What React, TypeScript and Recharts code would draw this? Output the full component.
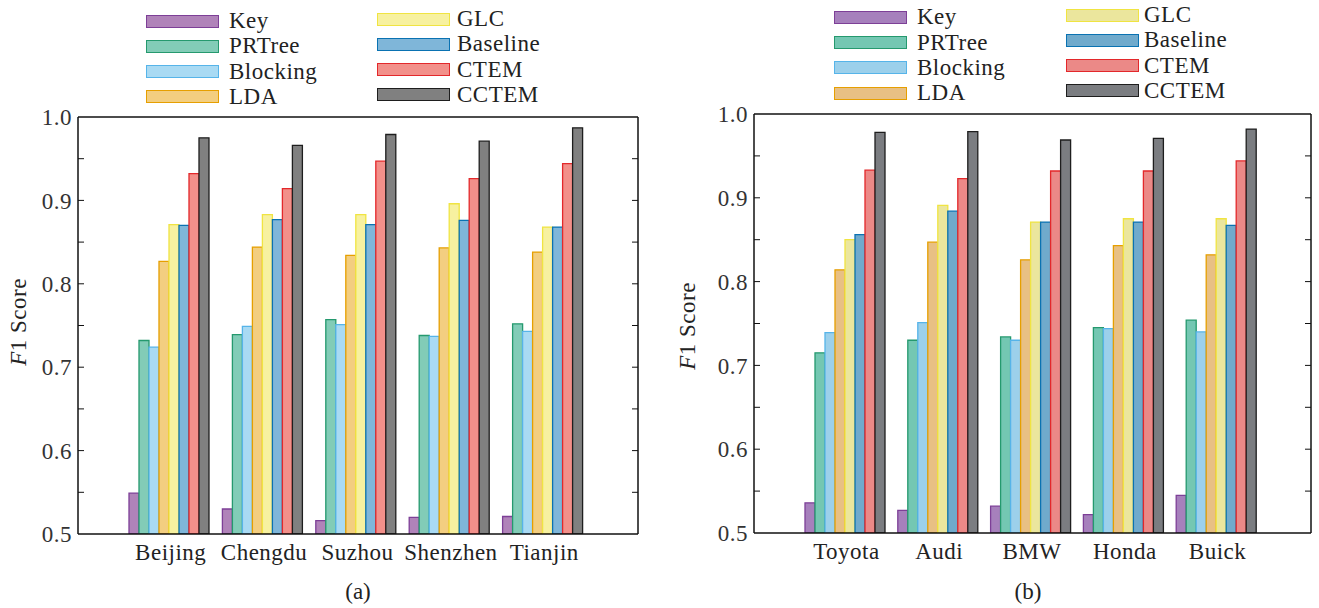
import React from 'react';
import { BarChart, Bar, XAxis, YAxis, ReferenceLine } from 'recharts';

const seriesNames = ['Key', 'PRTree', 'Blocking', 'LDA', 'GLC', 'Baseline', 'CTEM', 'CCTEM'];

const citiesA = ['Beijing', 'Chengdu', 'Suzhou', 'Shenzhen', 'Tianjin'];
const keyA = [0.549, 0.530, 0.516, 0.520, 0.521];
const prtreeA = [0.732, 0.739, 0.757, 0.738, 0.752];
const blockingA = [0.724, 0.749, 0.751, 0.737, 0.743];
const ldaA = [0.827, 0.844, 0.834, 0.843, 0.838];
const glcA = [0.871, 0.883, 0.883, 0.896, 0.868];
const baselineA = [0.870, 0.877, 0.871, 0.876, 0.868];
const ctemA = [0.932, 0.914, 0.947, 0.926, 0.944];
const cctemA = [0.975, 0.966, 0.979, 0.971, 0.987];

const brandsB = ['Toyota', 'Audi', 'BMW', 'Honda', 'Buick'];
const keyB = [0.536, 0.527, 0.532, 0.522, 0.545];
const prtreeB = [0.715, 0.730, 0.734, 0.745, 0.754];
const blockingB = [0.739, 0.751, 0.730, 0.744, 0.740];
const ldaB = [0.814, 0.847, 0.826, 0.843, 0.832];
const glcB = [0.850, 0.891, 0.871, 0.875, 0.875];
const baselineB = [0.856, 0.884, 0.871, 0.871, 0.867];
const ctemB = [0.933, 0.923, 0.932, 0.932, 0.944];
const cctemB = [0.978, 0.979, 0.969, 0.971, 0.982];

const yTicks = [0.5, 0.6, 0.7, 0.8, 0.9, 1.0];
const yMinorTicks = [0.55, 0.6, 0.65, 0.7, 0.75, 0.8, 0.85, 0.9, 0.95];

const fillsA = ['#B083B9', '#82CCB7', '#A9DAF3', '#F3CE80', '#F7F1A0', '#7FB6D9', '#F2908A', '#808080'];
const fillsB = ['#A680BC', '#74C7B2', '#9CD0EB', '#E8C084', '#EBE69D', '#70AACC', '#EB8987', '#7B7D81'];
const strokes = ['#7D3F97', '#25996E', '#56B4E9', '#E69F00', '#F0E442', '#0A72B2', '#E3282B', '#1E1E1E'];

const FONT = '"Liberation Serif", "DejaVu Serif", serif';
const FS = 23;
const LS = 0.5;

function buildRows(cats: string[], series: number[][]) {
  return cats.map((c, i) => {
    const row: Record<string, string | number> = { name: c };
    seriesNames.forEach((s, j) => {
      row[s] = series[j][i];
    });
    return row;
  });
}

const dataA = buildRows(citiesA, [keyA, prtreeA, blockingA, ldaA, glcA, baselineA, ctemA, cctemA]);
const dataB = buildRows(brandsB, [keyB, prtreeB, blockingB, ldaB, glcB, baselineB, ctemB, cctemB]);

const EmptyTick = () => <g />;

type PanelProps = {
  left: number;
  width: number;
  data: Record<string, string | number>[];
  fills: string[];
  yAxisWidth: number;
  marginTop: number;
  marginRight: number;
  marginBottom: number;
};

function Panel({ left, width, data, fills, yAxisWidth, marginTop, marginRight, marginBottom }: PanelProps) {
  return (
    <div style={{ position: 'absolute', left, top: 0 }}>
      <BarChart
        width={width}
        height={608}
        data={data}
        margin={{ top: marginTop, right: marginRight, bottom: marginBottom, left: 0 }}
        barCategoryGap={5}
        barGap={0}
      >
        <XAxis
          dataKey="name"
          padding={{ left: 46, right: 47 }}
          tickLine={false}
          tickSize={6}
          tickMargin={4}
          height={40}
          axisLine={{ stroke: '#111', strokeWidth: 1.5 }}
          tick={{ fill: '#222', fontFamily: FONT, fontSize: FS, letterSpacing: LS }}
        />
        <YAxis
          yAxisId="main"
          domain={[0.5, 1]}
          ticks={yTicks}
          allowDataOverflow
          width={yAxisWidth}
          tickLine={false}
          tickSize={0}
          tickMargin={6}
          tickFormatter={(v: number) => v.toFixed(1)}
          axisLine={{ stroke: '#111', strokeWidth: 1.5 }}
          tick={{ fill: '#333', fontFamily: FONT, fontSize: FS, letterSpacing: LS }}
        />
        <YAxis
          yAxisId="minorL"
          orientation="left"
          mirror
          domain={[0.5, 1]}
          ticks={yMinorTicks}
          allowDataOverflow
          axisLine={false}
          tickSize={6}
          tickLine={{ stroke: '#111', strokeWidth: 1 }}
          tick={EmptyTick}
        />
        <YAxis
          yAxisId="right"
          orientation="right"
          mirror
          domain={[0.5, 1]}
          ticks={yMinorTicks}
          allowDataOverflow
          axisLine={{ stroke: '#111', strokeWidth: 1.5 }}
          tickSize={6}
          tickLine={{ stroke: '#111', strokeWidth: 1 }}
          tick={EmptyTick}
        />
        <ReferenceLine yAxisId="main" y={1} stroke="#111" strokeWidth={1.5} />
        {seriesNames.map((s, i) => (
          <Bar
            key={s}
            yAxisId="main"
            dataKey={s}
            fill={fills[i]}
            stroke={strokes[i]}
            strokeWidth={1.3}
            isAnimationActive={false}
          />
        ))}
      </BarChart>
    </div>
  );
}

type LegendProps = {
  col1Swatch: number;
  col1Text: number;
  col1Top: number;
  col2Swatch: number;
  col2Text: number;
  col2Top: number;
  fills: string[];
};

function LegendBlock({ col1Swatch, col1Text, col1Top, col2Swatch, col2Text, col2Top, fills }: LegendProps) {
  const step = 25.3;
  return (
    <>
      {seriesNames.map((s, i) => {
        const col = i < 4 ? 0 : 1;
        const row = i % 4;
        const cy = (col === 0 ? col1Top : col2Top) + row * step;
        const sx = col === 0 ? col1Swatch : col2Swatch;
        const tx = col === 0 ? col1Text : col2Text;
        return (
          <React.Fragment key={s}>
            <div
              style={{
                position: 'absolute',
                left: sx,
                top: cy - 6.5,
                width: 73,
                height: 13,
                boxSizing: 'border-box',
                background: fills[i],
                border: `1.5px solid ${strokes[i]}`,
              }}
            />
            <div
              style={{
                position: 'absolute',
                left: tx,
                top: cy - 14,
                height: 28,
                lineHeight: '28px',
                fontFamily: FONT,
                fontSize: FS,
                letterSpacing: LS,
                color: '#222',
                whiteSpace: 'nowrap',
              }}
            >
              {s}
            </div>
          </React.Fragment>
        );
      })}
    </>
  );
}

function YLabel({ cx, cy }: { cx: number; cy: number }) {
  return (
    <div
      style={{
        position: 'absolute',
        left: cx - 60,
        top: cy - 14,
        width: 120,
        height: 28,
        lineHeight: '28px',
        textAlign: 'center',
        transform: 'rotate(-90deg)',
        fontFamily: FONT,
        fontSize: 23,
        letterSpacing: LS,
        color: '#222',
      }}
    >
      <span style={{ fontStyle: 'italic' }}>F</span>1 Score
    </div>
  );
}

function Caption({ cx, cy, text }: { cx: number; cy: number; text: string }) {
  return (
    <div
      style={{
        position: 'absolute',
        left: cx - 40,
        top: cy - 14,
        width: 80,
        height: 28,
        lineHeight: '28px',
        textAlign: 'center',
        fontFamily: FONT,
        fontSize: FS,
        color: '#222',
      }}
    >
      {text}
    </div>
  );
}

export default function App() {
  return (
    <div
      style={{
        position: 'absolute',
        left: 0,
        top: 0,
        width: 1319,
        height: 608,
        background: '#fff',
        overflow: 'hidden',
      }}
    >
      <Panel
        left={0}
        width={660}
        data={dataA}
        fills={fillsA}
        yAxisWidth={78}
        marginTop={117}
        marginRight={22}
        marginBottom={34}
      />
      <Panel
        left={660}
        width={659}
        data={dataB}
        fills={fillsB}
        yAxisWidth={94}
        marginTop={114}
        marginRight={8}
        marginBottom={35}
      />
      <LegendBlock col1Swatch={146} col1Text={229} col1Top={21} col2Swatch={377} col2Text={457} col2Top={19} fills={fillsA} />
      <LegendBlock col1Swatch={834} col1Text={917} col1Top={17.3} col2Swatch={1066} col2Text={1144} col2Top={15} fills={fillsB} />
      <YLabel cx={19} cy={322} />
      <YLabel cx={688} cy={326} />
      <Caption cx={358} cy={592} text="(a)" />
      <Caption cx={1028} cy={592} text="(b)" />
    </div>
  );
}
